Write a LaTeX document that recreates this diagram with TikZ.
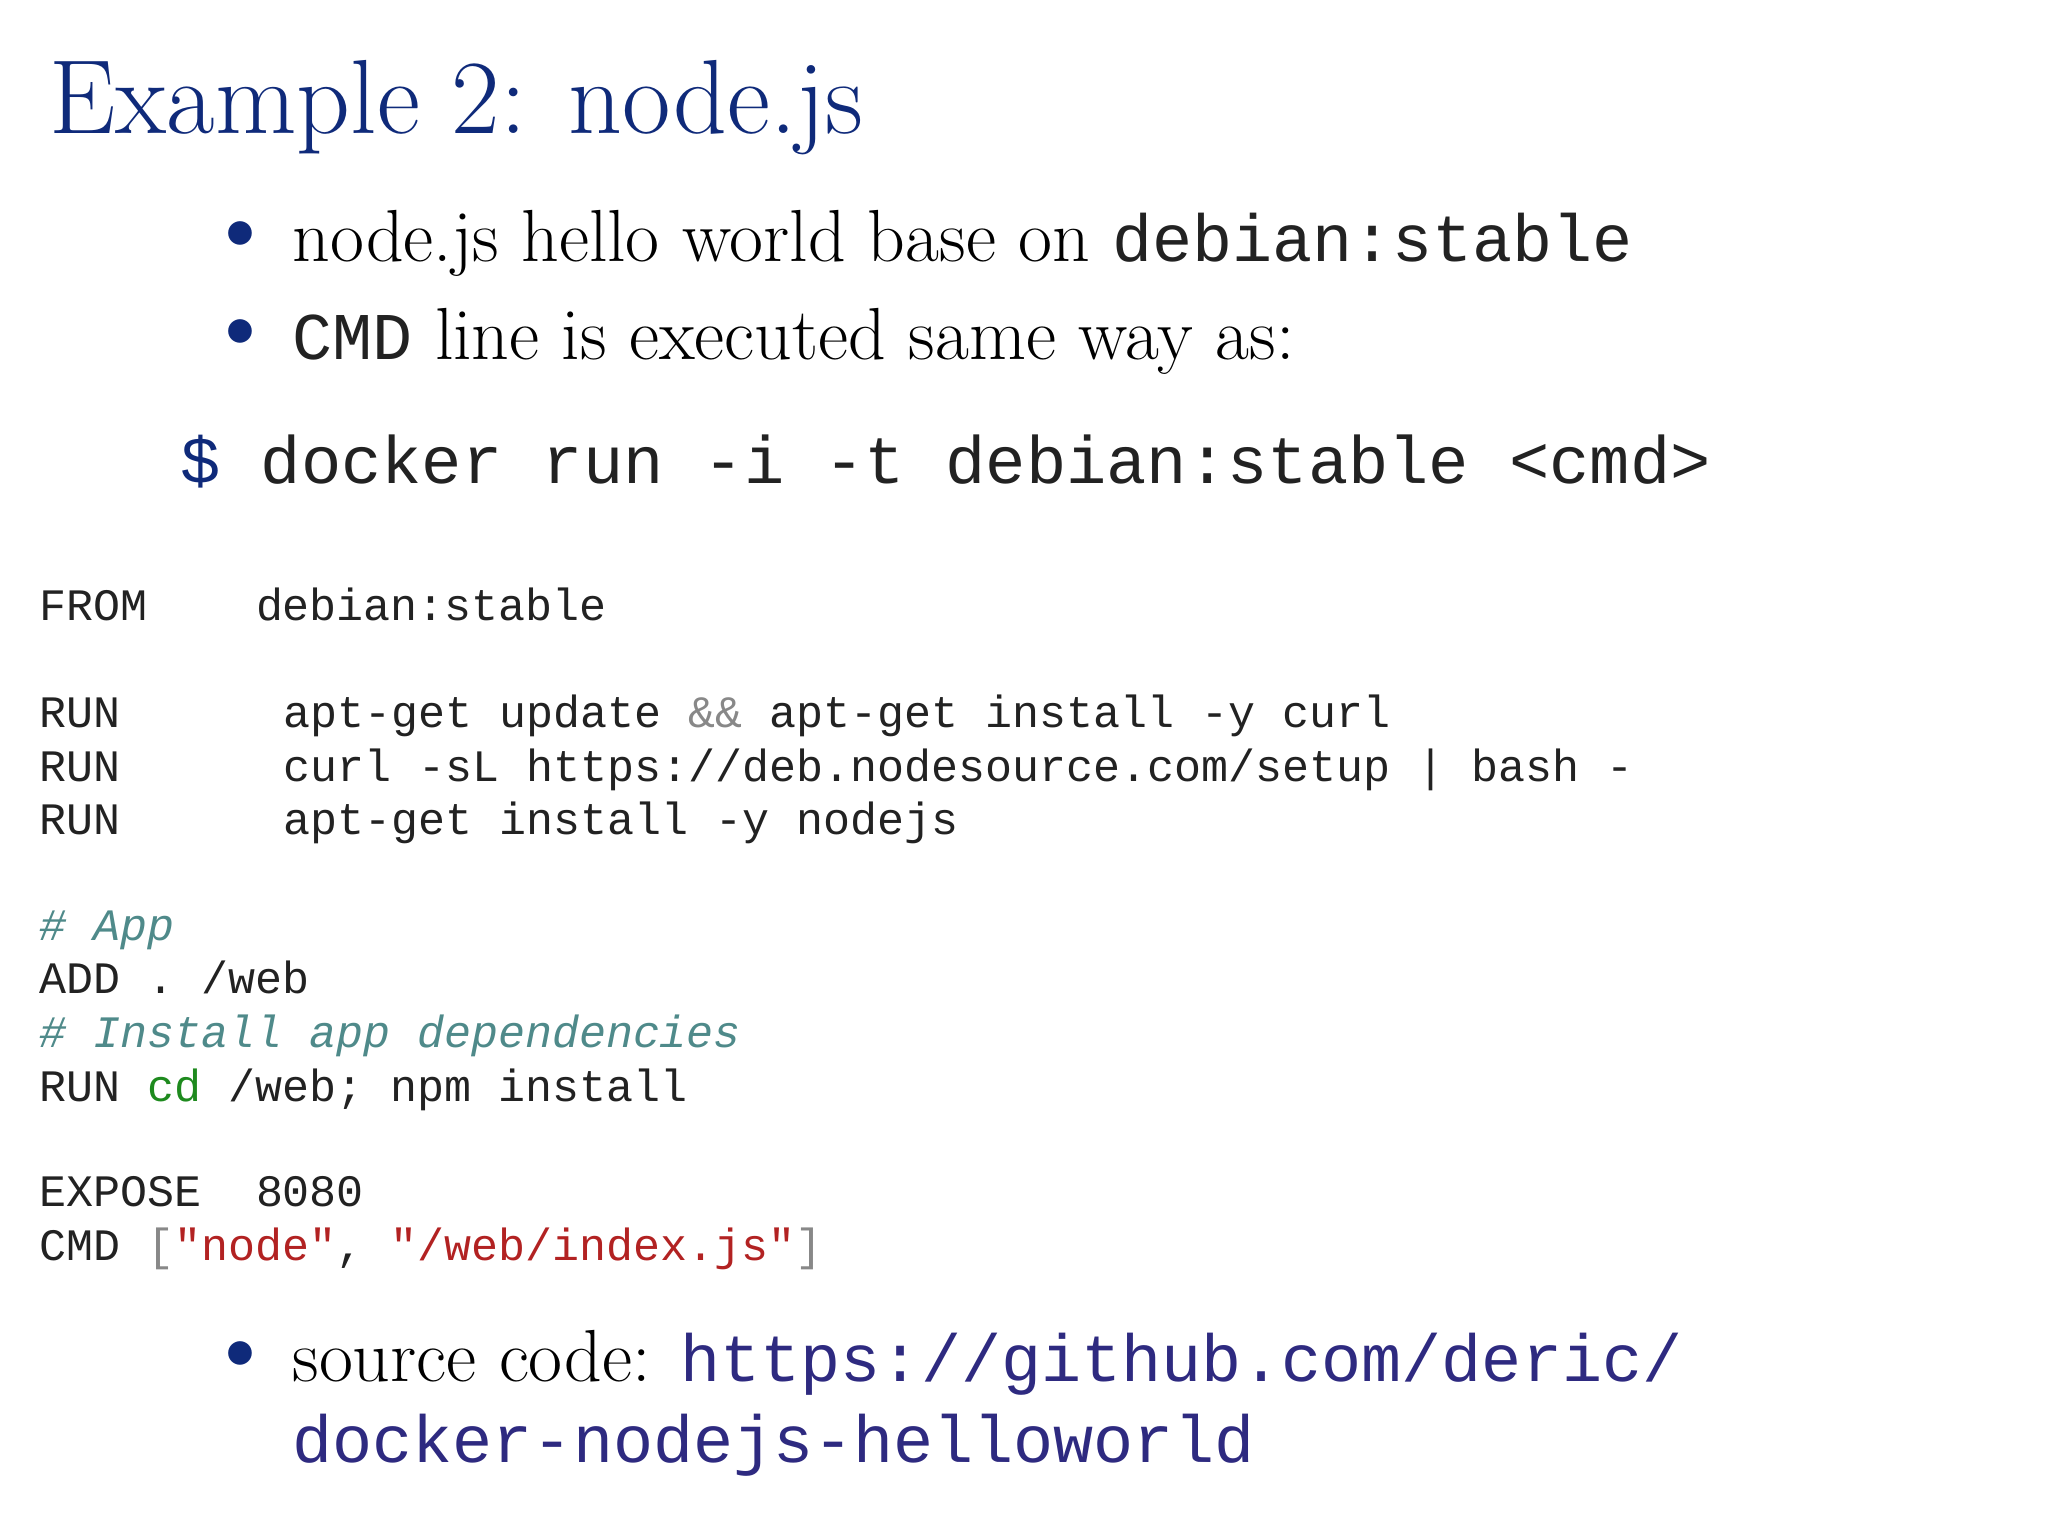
\documentclass[tikz,border=0pt]{standalone}
\usepackage{fontspec}
\setmonofont{Liberation Mono}
\definecolor{ttl}{HTML}{0F2A7A}
\definecolor{lnk}{HTML}{2E2A80}
\definecolor{cmt}{HTML}{4F8A8A}
\definecolor{grn}{HTML}{1E8A1E}
\definecolor{str}{HTML}{B22222}
\definecolor{gry}{HTML}{888888}
\definecolor{mono}{HTML}{222222}
\begin{document}
\begin{tikzpicture}[x=0.01306cm,y=-0.01306cm,
  t/.style={anchor=base west,inner sep=0pt,outer sep=0pt},
  big/.style={t,font=\fontsize{21}{25}\selectfont},
  cd/.style={t,text=mono,font=\fontsize{12.8}{15}\selectfont\ttfamily},
  bul/.style={anchor=base,inner sep=0pt,text=ttl,font=\fontsize{30}{30}\selectfont}]
\useasboundingbox (0,0) rectangle (1568,1176);
\node[t,text=ttl,font=\fontsize{30}{36}\selectfont] (title) at (38,102) {Example 2: node.js};
\node[bul] (b1) at (184,200) {\textbullet};
\node[big] (l1) at (224,200) {node.js hello world base on {\ttfamily\fontsize{19}{22}\selectfont\color{mono} debian:stable}};
\node[bul] (b2) at (184,275) {\textbullet};
\node[big] (l2) at (224,275) {{\ttfamily\fontsize{19}{22}\selectfont\color{mono} CMD} line is executed same way as:};
\node[t,text=mono,font=\fontsize{19.1}{22}\selectfont\ttfamily] (dk) at (138,370) {\textcolor{ttl}{\$} docker run -i -t debian:stable <cmd>};
\node[cd] (c1a) at (30,475) {FROM};
\node[cd] (c1b) at (196,475) {debian:stable};
\node[cd] (c2a) at (30,557) {RUN};
\node[cd] (c2b) at (217,557) {apt-get update \textcolor{gry}{\&\&} apt-get install -y curl};
\node[cd] (c3a) at (30,598) {RUN};
\node[cd] (c3b) at (217,598) {curl -sL https://deb.nodesource.com/setup | bash -};
\node[cd] (c4a) at (30,639) {RUN};
\node[cd] (c4b) at (217,639) {apt-get install -y nodejs};
\node[cd,text=cmt] (c5) at (30,720) {\itshape \# App};
\node[cd] (c6) at (30,761) {ADD . /web};
\node[cd,text=cmt] (c7) at (30,802) {\itshape \# Install app dependencies};
\node[cd] (c8) at (30,843) {RUN \textcolor{grn}{cd} /web; npm install};
\node[cd] (c9a) at (30,924) {EXPOSE};
\node[cd] (c9b) at (196,924) {8080};
\node[cd] (c10) at (30,965) {CMD \textcolor{gry}{[}\textcolor{str}{"node"}, \textcolor{str}{"/web/index.js"}\textcolor{gry}{]}};
\node[bul] (b3) at (184,1058) {\textbullet};
\node[big] (l3) at (224,1058) {source code: {\ttfamily\fontsize{19}{22}\selectfont\color{lnk} https://github.com/deric/}};
\node[t,font=\fontsize{19}{22}\selectfont\ttfamily,text=lnk] (l4) at (224,1120) {docker-nodejs-helloworld};
\end{tikzpicture}
\end{document}
